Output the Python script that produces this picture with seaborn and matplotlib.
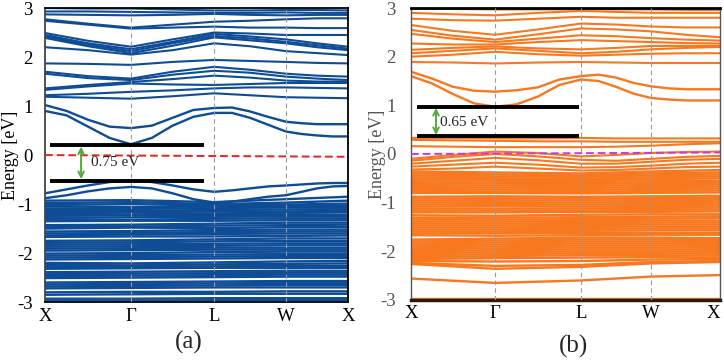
import numpy as np
import pandas as pd
import matplotlib
matplotlib.use('Agg')
import matplotlib.pyplot as plt
import seaborn as sns

# ---- k-path (tick positions along the path) ----
kpos_a = [0.0, 0.284, 0.558, 0.795, 1.0]
kpos_b = [0.0, 0.272, 0.550, 0.777, 1.0]
klabels = ['X', 'Γ', 'L', 'W', 'X']
ylevels = [-3, -2, -1, 0, 1, 2, 3]
ylabels = ['-3', '-2', '-1', '0', '1', '2', '3']

# ---- panel (a) ----
# bands next to the gap, sampled at quarter steps of each path segment (17 points)
a_gap_bands = [
    [1.02, 0.90, 0.72, 0.58, 0.55, 0.60, 0.76, 0.92, 0.96, 0.97, 0.89, 0.78, 0.68, 0.65, 0.63, 0.63, 0.63],
    [0.90, 0.81, 0.58, 0.35, 0.22, 0.35, 0.60, 0.78, 0.86, 0.86, 0.76, 0.62, 0.48, 0.43, 0.40, 0.38, 0.38],
    [-0.78, -0.70, -0.62, -0.55, -0.52, -0.55, -0.62, -0.70, -0.75, -0.72, -0.68, -0.64, -0.62, -0.60, -0.58, -0.57, -0.57],
    [-0.88, -0.82, -0.74, -0.68, -0.65, -0.68, -0.78, -0.90, -0.97, -0.95, -0.90, -0.85, -0.82, -0.75, -0.68, -0.64, -0.63],
]
# upper conduction bands, sampled at X, mid, G, mid, L, mid, W, mid, X
a_cond = [
    [3.00, 2.99, 2.99, 2.97, 2.95, 2.95, 2.96, 2.96, 2.95],
    [2.93, 2.93, 2.92, 2.91, 2.90, 2.90, 2.91, 2.90, 2.90],
    [2.87, 2.86, 2.85, 2.86, 2.88, 2.86, 2.85, 2.86, 2.86],
    [2.77, 2.68, 2.60, 2.66, 2.72, 2.74, 2.77, 2.79, 2.79],
    [2.74, 2.66, 2.58, 2.60, 2.62, 2.60, 2.60, 2.59, 2.59],
    [2.49, 2.33, 2.21, 2.36, 2.50, 2.48, 2.45, 2.45, 2.45],
    [2.45, 2.28, 2.16, 2.31, 2.47, 2.42, 2.36, 2.28, 2.21],
    [2.42, 2.25, 2.12, 2.28, 2.43, 2.38, 2.31, 2.24, 2.17],
    [2.39, 2.22, 2.08, 2.23, 2.40, 2.34, 2.28, 2.20, 2.14],
    [2.20, 2.14, 2.05, 2.14, 2.28, 2.22, 2.12, 2.08, 2.04],
    [1.87, 1.86, 1.84, 1.90, 1.94, 1.92, 1.90, 1.88, 1.87],
    [1.70, 1.61, 1.56, 1.70, 1.80, 1.74, 1.66, 1.62, 1.60],
    [1.66, 1.57, 1.53, 1.64, 1.72, 1.68, 1.60, 1.56, 1.53],
    [1.36, 1.43, 1.49, 1.55, 1.62, 1.58, 1.52, 1.50, 1.50],
    [1.33, 1.40, 1.46, 1.44, 1.43, 1.45, 1.47, 1.47, 1.47],
    [1.22, 1.25, 1.29, 1.32, 1.36, 1.38, 1.38, 1.37, 1.36],
    [1.19, 1.17, 1.15, 1.20, 1.26, 1.22, 1.18, 1.17, 1.16],
]
# deep valence bands, sampled at X, G, L, W, X
a_val = [
    [-0.93, -0.92, -0.96, -0.90, -0.85], [-0.98, -0.96, -1.00, -0.97, -0.93],
    [-1.02, -1.00, -1.03, -1.01, -0.99], [-1.05, -1.06, -1.05, -1.04, -1.03],
    [-1.09, -1.10, -1.08, -1.07, -1.06], [-1.12, -1.14, -1.12, -1.11, -1.10],
    [-1.16, -1.17, -1.15, -1.15, -1.14], [-1.20, -1.21, -1.19, -1.18, -1.17],
    [-1.24, -1.23, -1.22, -1.22, -1.22], [-1.28, -1.27, -1.26, -1.25, -1.25],
    [-1.31, -1.32, -1.30, -1.29, -1.29], [-1.35, -1.34, -1.34, -1.33, -1.33],
    [-1.43, -1.42, -1.40, -1.38, -1.38], [-1.47, -1.46, -1.44, -1.43, -1.42],
    [-1.50, -1.48, -1.49, -1.47, -1.47], [-1.56, -1.55, -1.53, -1.52, -1.52],
    [-1.60, -1.59, -1.57, -1.56, -1.56], [-1.64, -1.62, -1.61, -1.60, -1.60],
    [-1.67, -1.66, -1.66, -1.65, -1.64], [-1.75, -1.74, -1.72, -1.70, -1.70],
    [-1.79, -1.78, -1.76, -1.75, -1.75], [-1.83, -1.82, -1.81, -1.80, -1.80],
    [-1.87, -1.86, -1.85, -1.84, -1.84], [-1.91, -1.90, -1.89, -1.89, -1.89],
    [-1.95, -1.94, -1.93, -1.93, -1.93], [-2.01, -2.00, -1.98, -1.97, -1.97],
    [-2.05, -2.04, -2.03, -2.02, -2.02], [-2.09, -2.08, -2.07, -2.06, -2.06],
    [-2.13, -2.12, -2.11, -2.10, -2.10], [-2.20, -2.21, -2.19, -2.17, -2.16],
    [-2.24, -2.25, -2.23, -2.22, -2.21], [-2.28, -2.28, -2.27, -2.26, -2.26],
    [-2.32, -2.31, -2.30, -2.30, -2.30], [-2.39, -2.38, -2.37, -2.36, -2.36],
    [-2.43, -2.42, -2.41, -2.40, -2.40], [-2.47, -2.46, -2.45, -2.44, -2.44],
    [-2.51, -2.50, -2.49, -2.48, -2.48], [-2.60, -2.59, -2.58, -2.57, -2.57],
    [-2.64, -2.63, -2.62, -2.61, -2.61], [-2.68, -2.67, -2.66, -2.65, -2.65],
    [-2.72, -2.71, -2.70, -2.70, -2.70], [-2.80, -2.79, -2.79, -2.78, -2.78],
    [-2.85, -2.84, -2.83, -2.83, -2.83], [-2.93, -2.93, -2.92, -2.92, -2.92],
    [-2.97, -2.97, -2.96, -2.96, -2.96],
]
a_gap_edges = [0.20, -0.52]
a_fermi = [0.0, -0.035]
a_gap_text = '0.75 eV'

# ---- panel (b) ----
b_gap_bands = [
    [1.69, 1.55, 1.38, 1.30, 1.28, 1.31, 1.37, 1.53, 1.60, 1.63, 1.57, 1.46, 1.39, 1.35, 1.33, 1.33, 1.33],
    [1.60, 1.45, 1.23, 1.04, 0.97, 1.02, 1.18, 1.42, 1.53, 1.50, 1.38, 1.24, 1.15, 1.12, 1.10, 1.10, 1.10],
]
b_cond = [
    [2.99, 2.98, 2.97, 2.97, 2.97, 2.97, 2.97, 2.96, 2.96],
    [2.90, 2.87, 2.85, 2.90, 2.94, 2.92, 2.90, 2.90, 2.90],
    [2.78, 2.75, 2.74, 2.78, 2.82, 2.80, 2.80, 2.80, 2.80],
    [2.65, 2.53, 2.45, 2.56, 2.68, 2.66, 2.62, 2.60, 2.60],
    [2.55, 2.43, 2.35, 2.46, 2.58, 2.56, 2.52, 2.45, 2.40],
    [2.47, 2.37, 2.30, 2.37, 2.44, 2.42, 2.38, 2.35, 2.33],
    [2.27, 2.25, 2.25, 2.30, 2.34, 2.32, 2.30, 2.28, 2.27],
    [2.14, 2.18, 2.21, 2.17, 2.15, 2.18, 2.22, 2.22, 2.22],
    [2.07, 2.12, 2.17, 2.12, 2.07, 2.10, 2.15, 2.18, 2.20],
    [2.00, 2.04, 2.10, 2.05, 2.02, 2.04, 2.06, 2.07, 2.07],
    [1.89, 1.88, 1.86, 1.88, 1.89, 1.88, 1.87, 1.87, 1.87],
    [0.33, 0.33, 0.32, 0.32, 0.33, 0.32, 0.32, 0.32, 0.32],
    [0.29, 0.28, 0.27, 0.26, 0.26, 0.25, 0.25, 0.25, 0.25],
    [0.16, 0.15, 0.14, 0.14, 0.14, 0.15, 0.17, 0.20, 0.22],
    [-0.10, -0.02, 0.05, 0.02, -0.05, -0.02, 0.02, 0.04, 0.05],
    [-0.14, -0.06, 0.00, -0.05, -0.12, -0.14, -0.10, -0.06, -0.04],
    [-0.20, -0.14, -0.08, -0.13, -0.20, -0.20, -0.16, -0.12, -0.10],
    [-0.26, -0.22, -0.18, -0.22, -0.28, -0.27, -0.24, -0.20, -0.18],
    [-0.32, -0.30, -0.26, -0.30, -0.34, -0.33, -0.30, -0.27, -0.26],
]
b_val = [
    [-0.36, -0.38, -0.40, -0.36, -0.33], [-0.40, -0.42, -0.44, -0.40, -0.38],
    [-0.44, -0.46, -0.47, -0.44, -0.42], [-0.48, -0.50, -0.51, -0.48, -0.46],
    [-0.52, -0.53, -0.54, -0.52, -0.50], [-0.56, -0.57, -0.58, -0.56, -0.55],
    [-0.60, -0.61, -0.62, -0.60, -0.59], [-0.64, -0.65, -0.66, -0.64, -0.63],
    [-0.68, -0.69, -0.70, -0.68, -0.67], [-0.72, -0.73, -0.74, -0.72, -0.71],
    [-0.76, -0.77, -0.78, -0.76, -0.75], [-0.80, -0.80, -0.81, -0.80, -0.79],
    [-0.88, -0.87, -0.88, -0.87, -0.86], [-0.92, -0.91, -0.92, -0.91, -0.90],
    [-0.96, -0.95, -0.96, -0.95, -0.94], [-1.00, -0.99, -1.00, -0.99, -0.98],
    [-1.04, -1.03, -1.04, -1.03, -1.02], [-1.08, -1.07, -1.08, -1.07, -1.06],
    [-1.12, -1.12, -1.12, -1.11, -1.10], [-1.16, -1.16, -1.16, -1.15, -1.14],
    [-1.20, -1.20, -1.19, -1.19, -1.18], [-1.26, -1.27, -1.25, -1.24, -1.24],
    [-1.31, -1.31, -1.30, -1.29, -1.28], [-1.35, -1.35, -1.34, -1.33, -1.32],
    [-1.39, -1.39, -1.38, -1.37, -1.37], [-1.43, -1.43, -1.42, -1.41, -1.41],
    [-1.47, -1.47, -1.46, -1.45, -1.45], [-1.51, -1.51, -1.50, -1.49, -1.49],
    [-1.55, -1.55, -1.54, -1.53, -1.53], [-1.59, -1.59, -1.58, -1.57, -1.57],
    [-1.63, -1.63, -1.62, -1.62, -1.62], [-1.67, -1.68, -1.67, -1.66, -1.66],
    [-1.76, -1.74, -1.72, -1.72, -1.73], [-1.80, -1.78, -1.76, -1.76, -1.77],
    [-1.84, -1.82, -1.80, -1.80, -1.81], [-1.88, -1.86, -1.84, -1.84, -1.85],
    [-1.92, -1.90, -1.88, -1.88, -1.89], [-1.96, -1.94, -1.92, -1.92, -1.93],
    [-2.00, -1.98, -1.96, -1.96, -1.97], [-2.04, -2.02, -2.00, -2.00, -2.01],
    [-2.08, -2.06, -2.04, -2.04, -2.05], [-2.12, -2.10, -2.08, -2.08, -2.09],
    [-2.16, -2.14, -2.13, -2.12, -2.13], [-2.20, -2.21, -2.20, -2.17, -2.16],
    [-2.24, -2.30, -2.28, -2.22, -2.20], [-2.26, -2.36, -2.32, -2.25, -2.22],
    [-2.56, -2.65, -2.60, -2.52, -2.49], [-2.98, -2.98, -2.98, -2.98, -2.98],
]
b_gap_edges = [0.975, 0.36]
b_fermi = [0.0, 0.03]
b_gap_text = '0.65 eV'


def band_frame(kpos, bands):
    # each band is sampled evenly along every path segment
    rows = []
    for n, band in enumerate(bands):
        idx = np.linspace(0, len(kpos) - 1, len(band))
        ks = np.interp(idx, np.arange(len(kpos)), kpos)
        for k, e in zip(ks, band):
            rows.append((n, k, e))
    return pd.DataFrame(rows, columns=['band', 'k', 'E'])


sns.set_style('white')
plt.rcParams['font.family'] = ['Liberation Serif', 'DejaVu Serif']
plt.rcParams['axes.unicode_minus'] = False

fig = plt.figure(figsize=(7.24, 3.64), dpi=100)
ax_a = fig.add_axes([0.0622, 0.170, 0.4185, 0.808])
ax_b = fig.add_axes([0.5677, 0.176, 0.4268, 0.802])

panels = [
    (ax_a, kpos_a, [(a_gap_bands, 1.7), (a_cond, 1.5), (a_val, 1.7)], '#0E4C96', a_gap_edges,
     (0.017, 0.525), 0.119, a_fermi, '#E52320', a_gap_text, (0.152, -0.16), 'black', -0.086, 9.0),
    (ax_b, kpos_b, [(b_gap_bands, 1.7), (b_cond, 1.5), (b_val, 1.7)], '#F7781E', b_gap_edges,
     (0.019, 0.544), 0.081, b_fermi, '#C43DD6', b_gap_text, (0.094, 0.65), '#555555', -0.082, 11.0),
]

for (ax, kpos, groups, col, edges, xr, xarr, fermi, fcol, gtxt, tpos, tcol, labx, pad) in panels:
    for bands, lw in groups:
        df = band_frame(kpos, bands)
        sns.lineplot(data=df, x='k', y='E', units='band', estimator=None, sort=False,
                     color=col, lw=lw, legend=False, ax=ax)
    for k in kpos[1:-1]:
        ax.axvline(k, color='#9A9A9A', lw=0.8, ls=(0, (4, 3)), zorder=3)
    ax.plot([0, 1], fermi, color=fcol, lw=1.4, ls=(0, (4, 2)), zorder=4)
    for e in edges:
        ax.plot(list(xr), [e, e], color='black', lw=2.8, solid_capstyle='butt', zorder=5)
    ax.annotate('', xy=(xarr, edges[0]), xytext=(xarr, edges[1]),
                arrowprops=dict(arrowstyle='<->', color='#55A83A', lw=1.4,
                                shrinkA=1, shrinkB=1), zorder=6)
    ax.text(tpos[0], tpos[1], gtxt, fontsize=11, va='center', ha='left', zorder=6)

    ax.set_xlim(0, 1)
    ax.set_ylim(-3, 3)
    ax.set_xticks(kpos)
    ax.set_xticklabels(klabels, fontsize=13.5)
    ax.set_yticks(ylevels)
    ax.set_yticklabels(ylabels, fontsize=13.5, color=tcol)
    ax.tick_params(axis='y', length=0, pad=pad)
    ax.tick_params(axis='x', length=0, pad=4, colors='black')
    ax.set_xlabel('')
    ax.set_ylabel('Energy [eV]', fontsize=13, color=tcol)
    ax.yaxis.set_label_coords(labx, 0.5)

# last X label of panel (b) sits against the right edge
ax_b.get_xticklabels()[-1].set_horizontalalignment('right')

for sp in ax_a.spines.values():
    sp.set_color('black')
    sp.set_linewidth(1.3)
ax_a.spines['left'].set_color('#444444')
for name, sp in ax_b.spines.items():
    sp.set_color('#555555')
    sp.set_linewidth(1.0)
ax_b.spines['top'].set_color('black')
ax_b.spines['top'].set_linewidth(2.0)
ax_b.spines['bottom'].set_color('#2a1a10')
ax_b.spines['bottom'].set_linewidth(2.5)

fig.text(189 / 724, 1 - 342 / 364, '(a)', fontsize=18, ha='center', va='center')
fig.text(573 / 724, 1 - 346 / 364, '(b)', fontsize=18, ha='center', va='center')

fig.savefig('out.png', dpi=100)
